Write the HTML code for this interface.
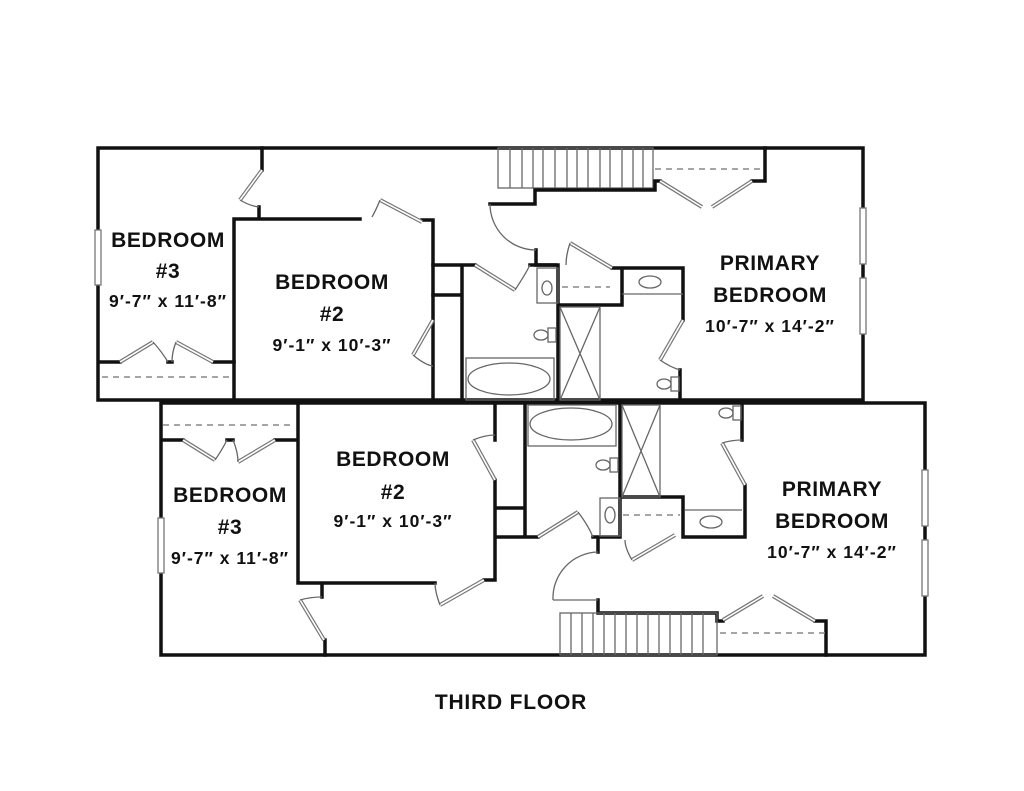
<!DOCTYPE html>
<html><head><meta charset="utf-8"><style>
html,body{margin:0;padding:0;background:#fff;}
svg{display:block}
text{font-family:"Liberation Sans",sans-serif;font-weight:bold;fill:#111;text-anchor:middle}
.h{font-size:21px;letter-spacing:0.6px}
.s{font-size:17.5px;letter-spacing:1px}
.w{stroke:#111;stroke-width:3.5;fill:none;stroke-linecap:square}
.t{stroke:#666;stroke-width:1.3;fill:none}
.d{stroke:#888;stroke-width:1.5;stroke-dasharray:6 5;fill:none}
.dr{stroke:#777;stroke-width:4;fill:none}
.dri{stroke:#fff;stroke-width:1.6;fill:none}
</style></head><body>
<svg width="1024" height="791" viewBox="0 0 1024 791" xmlns="http://www.w3.org/2000/svg">
<!-- ========== TOP UNIT ========== -->
<rect x="98" y="148" width="765" height="252" class="w"/>
<rect x="95" y="230" width="6" height="55" fill="#fff" stroke="#777" stroke-width="1.3"/>
<rect x="860" y="208" width="6" height="56" fill="#fff" stroke="#777" stroke-width="1.3"/>
<rect x="860" y="278" width="6" height="56" fill="#fff" stroke="#777" stroke-width="1.3"/>
<path class="w" d="M262 148V170 M259 207V219 M234 219H360 M234 219V400 M422 220H433V400"/>
<path class="w" d="M100 362H120 M168 362H172 M213 362H234"/>
<path class="d" d="M102 377H230"/>
<path class="w" d="M433 265H462 M433 295H462 M462 265V400 M462 265H475"/>
<g class="t">
<rect x="498" y="148" width="155" height="40"/>
<path d="M510 148V188 M522 148V188 M533 148V188 M543 148V188 M555 148V188 M567 148V188 M577 148V188 M588 148V188 M600 148V188 M610 148V188 M622 148V188 M633 148V188 M643 148V188"/>
</g>
<path class="w" d="M535 190H655V181H660 M752 181H765V148 M535 190V204H490 M536 250V265H555"/>
<path class="d" d="M655 169H763"/>
<path class="w" d="M530 265H558V400 M612 268H683V320 M622 268V305H558 M680 370V400"/>
<rect x="537" y="268" width="21" height="35" class="t"/>
<ellipse cx="547" cy="288" rx="5" ry="7" class="t"/>
<path class="d" d="M562 287H610"/>
<rect x="466" y="358" width="88" height="42" class="t"/>
<ellipse cx="509" cy="379" rx="41" ry="16" class="t"/>
<rect x="548" y="328" width="8" height="14" class="t"/><ellipse cx="541" cy="335" rx="7" ry="5" class="t"/>
<rect x="560" y="307" width="40" height="93" class="t"/>
<path class="t" d="M560 307L600 400 M600 307L560 400"/>
<path class="t" d="M622 294H683"/>
<ellipse cx="650" cy="282" rx="11" ry="6" class="t"/>
<rect x="671" y="377" width="8" height="14" class="t"/><ellipse cx="664" cy="384" rx="7" ry="5" class="t"/>
<g>
<path class="dr" d="M262 170L240 200 M380 200L422 222 M120 362L153 342 M176 342L213 362 M433 320L413 355 M475 265L515 290 M570 243L612 268 M683 320L660 360 M660 181L702 207 M712 207L752 181"/>
<path class="dri" d="M262 170L240 200 M380 200L422 222 M120 362L153 342 M176 342L213 362 M433 320L413 355 M475 265L515 290 M570 243L612 268 M683 320L660 360 M660 181L702 207 M712 207L752 181"/>
</g>
<path class="t" d="M240 200Q250 206 259 207 M380 200Q376 210 372 217 M153 342Q162 352 168 362 M176 342Q172 352 172 362 M413 355Q425 365 433 366 M515 290Q525 275 530 265 M570 243Q566 255 566 265 M660 360Q670 367 680 370"/>
<path class="t" d="M490 204A46 46 0 0 0 536 250"/>

<!-- ========== BOTTOM UNIT ========== -->
<rect x="161" y="403" width="764" height="252" class="w"/>
<rect x="158" y="518" width="6" height="55" fill="#fff" stroke="#777" stroke-width="1.3"/>
<rect x="922" y="470" width="6" height="56" fill="#fff" stroke="#777" stroke-width="1.3"/>
<rect x="922" y="540" width="6" height="56" fill="#fff" stroke="#777" stroke-width="1.3"/>
<path class="d" d="M163 425H292"/>
<path class="w" d="M162 440H183 M227 440H233 M275 440H298 M298 403V583H435 M484 580H495V480 M495 440V403 M495 508H525 M495 537H525 M525 403V537H538 M322 583V597 M325 640V655"/>
<path class="w" d="M593 537H620V403 M598 537V552 M620 497H683V537H745V485 M742 403V440 M598 600V613H717V621H723 M815 621H826V655"/>
<path class="d" d="M623 515H680 M720 633H825"/>
<rect x="528" y="405" width="88" height="41" class="t"/>
<ellipse cx="571" cy="424" rx="41" ry="16" class="t"/>
<rect x="610" y="458" width="8" height="14" class="t"/><ellipse cx="603" cy="465" rx="7" ry="5" class="t"/>
<rect x="600" y="498" width="20" height="38" class="t"/><ellipse cx="610" cy="515" rx="5" ry="8" class="t"/>
<rect x="622" y="405" width="38" height="92" class="t"/>
<path class="t" d="M622 405L660 497 M660 405L622 497"/>
<rect x="733" y="406" width="8" height="14" class="t"/><ellipse cx="726" cy="413" rx="7" ry="5" class="t"/>
<path class="t" d="M685 510H742"/>
<ellipse cx="711" cy="522" rx="11" ry="6" class="t"/>
<g class="t">
<rect x="560" y="613" width="157" height="42"/>
<path d="M571 613V655 M582 613V655 M593 613V655 M604 613V655 M615 613V655 M626 613V655 M637 613V655 M648 613V655 M659 613V655 M670 613V655 M681 613V655 M692 613V655 M703 613V655"/>
</g>
<path class="t" d="M553 600H598"/>
<g>
<path class="dr" d="M183 440L215 460 M238 462L275 440 M495 480L473 440 M440 605L484 580 M300 600L324 640 M538 537L578 512 M632 560L675 535 M745 485L722 443 M723 620L763 596 M773 596L815 621"/>
<path class="dri" d="M183 440L215 460 M238 462L275 440 M495 480L473 440 M440 605L484 580 M300 600L324 640 M538 537L578 512 M632 560L675 535 M745 485L722 443 M723 620L763 596 M773 596L815 621"/>
</g>
<path class="t" d="M215 460Q222 450 227 440 M233 440Q238 452 238 462 M473 440Q485 435 495 435 M440 605Q435 592 435 583 M300 600Q310 597 322 597 M578 512Q588 525 593 537 M632 560Q625 548 625 540 M722 443Q732 440 742 440"/>
<path class="t" d="M598 552A46 46 0 0 0 553 600"/>

<text x="168" y="247" class="h">BEDROOM</text>
<text x="168" y="278" class="h">#3</text>
<text x="168" y="307" class="s">9′-7″ x 11′-8″</text>
<text x="332" y="289" class="h">BEDROOM</text>
<text x="332" y="321" class="h">#2</text>
<text x="332" y="351" class="s">9′-1″ x 10′-3″</text>
<text x="770" y="270" class="h">PRIMARY</text>
<text x="770" y="302" class="h">BEDROOM</text>
<text x="770" y="332" class="s">10′-7″ x 14′-2″</text>
<text x="230" y="502" class="h">BEDROOM</text>
<text x="230" y="534" class="h">#3</text>
<text x="230" y="564" class="s">9′-7″ x 11′-8″</text>
<text x="393" y="466" class="h">BEDROOM</text>
<text x="393" y="499" class="h">#2</text>
<text x="393" y="527" class="s">9′-1″ x 10′-3″</text>
<text x="832" y="496" class="h">PRIMARY</text>
<text x="832" y="528" class="h">BEDROOM</text>
<text x="832" y="558" class="s">10′-7″ x 14′-2″</text>
<text x="511" y="709" font-size="21" letter-spacing="0.8">THIRD FLOOR</text>
</svg>
</body></html>
